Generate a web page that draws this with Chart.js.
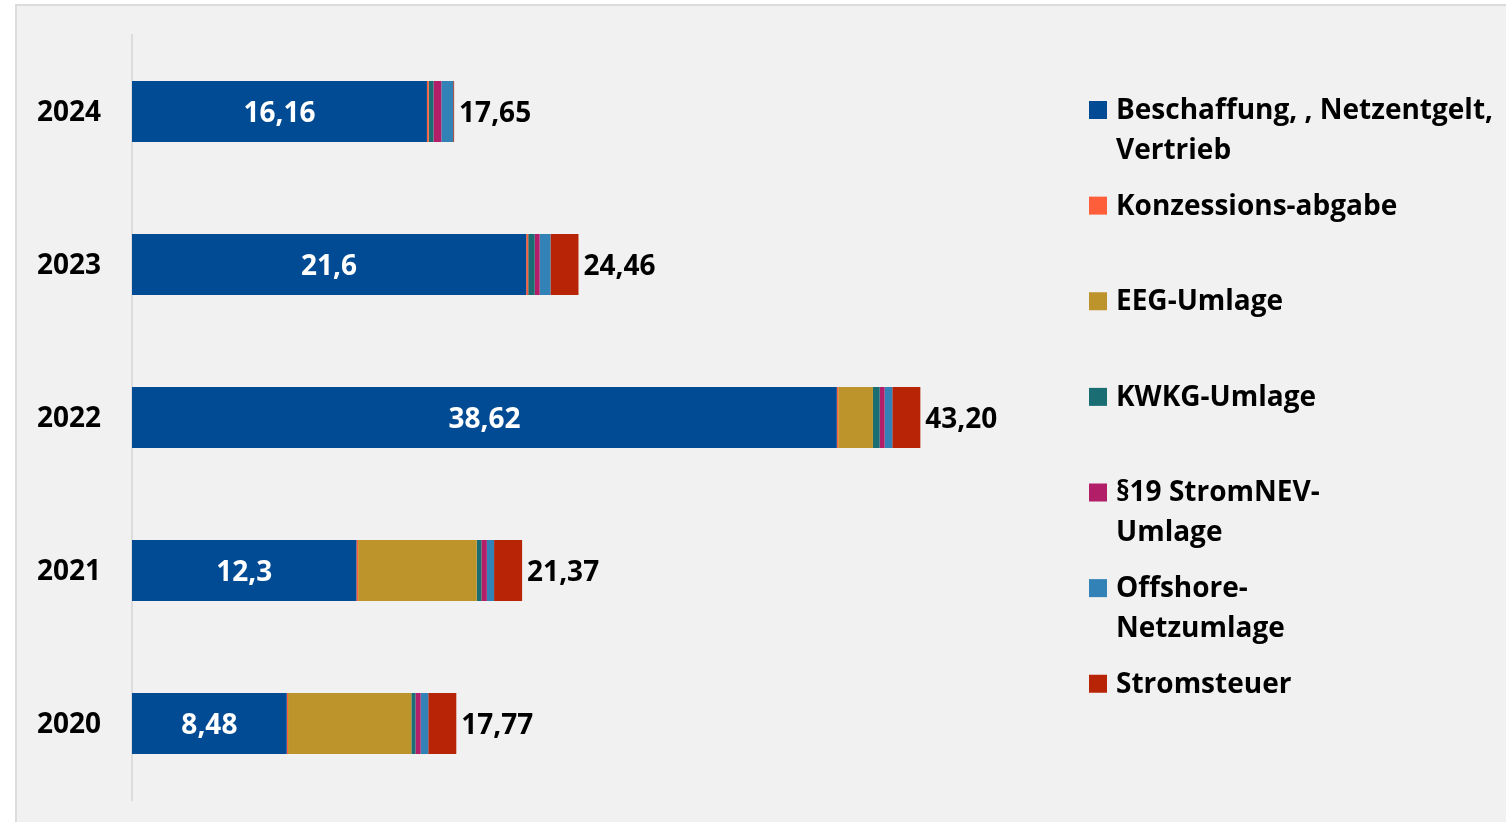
<!DOCTYPE html>
<html>
<head>
<meta charset="utf-8">
<script src="https://cdn.jsdelivr.net/npm/chart.js@4.4.1/dist/chart.umd.min.js"></script>
<style>
  html, body { margin: 0; padding: 0; background: #ffffff; }
  #panel { position: absolute; left: 15px; top: 4px; width: 1500px; height: 830px;
           background: #f1f1f1; border-left: 2px solid #dcdcdc; border-top: 2px solid #dcdcdc; }
  #wrap { position: absolute; left: 0; top: 0; width: 1506px; height: 822px; }
</style>
</head>
<body>
<div id="panel"></div>
<div id="wrap"><canvas id="c" width="1506" height="822"></canvas></div>
<script>
// ---- data ----
const years = ['2024', '2023', '2022', '2021', '2020'];
const beschaffung = [16.16, 21.6, 38.62, 12.3, 8.48];
const konzession  = [0.10, 0.11, 0.08, 0.09, 0.07];
const eeg         = [0, 0, 1.90, 6.50, 6.756];
const kwkg        = [0.26, 0.357, 0.37, 0.254, 0.226];
const stromnev    = [0.43, 0.27, 0.27, 0.30, 0.285];
const offshore    = [0.65, 0.591, 0.42, 0.395, 0.416];
const stromsteuer = [0.05, 1.537, 1.537, 1.537, 1.537];
const totals      = [17.65, 24.46, 43.20, 21.37, 17.77];
const seriesNames = [
  ['Beschaffung, , Netzentgelt,', 'Vertrieb'],
  ['Konzessions-abgabe'],
  ['EEG-Umlage'],
  ['KWKG-Umlage'],
  ['§19 StromNEV-', 'Umlage'],
  ['Offshore-', 'Netzumlage'],
  ['Stromsteuer']
];
const seriesColors = ['#004b93', '#ff5e3a', '#bd942b', '#1a6d73', '#b21e68', '#3282b8', '#b82406'];
const seriesValues = [beschaffung, konzession, eeg, kwkg, stromnev, offshore, stromsteuer];

const FONT = '"Open Sans", "Noto Sans", sans-serif';
const FSIZE = 28;

function fmt(v, fixed) {
  return (fixed ? v.toFixed(2) : String(v)).replace('.', ',');
}

const labelPlugin = {
  id: 'labels',
  afterDatasetsDraw(chart) {
    const ctx = chart.ctx;
    ctx.save();
    ctx.font = '700 ' + FSIZE + 'px ' + FONT;
    ctx.textBaseline = 'middle';
    const m0 = chart.getDatasetMeta(0);
    const mLast = chart.getDatasetMeta(chart.data.datasets.length - 1);
    m0.data.forEach((el, i) => {
      ctx.fillStyle = '#ffffff';
      ctx.textAlign = 'center';
      ctx.fillText(fmt(beschaffung[i], false), (el.base + el.x) / 2, el.y + 3);
      const end = mLast.data[i].x;
      ctx.fillStyle = '#000000';
      ctx.textAlign = 'left';
      ctx.fillText(fmt(totals[i], true), end + 5, el.y + 3);
    });
    ctx.restore();
  }
};

const legendPlugin = {
  id: 'sideLegend',
  afterDraw(chart) {
    const ctx = chart.ctx;
    ctx.save();
    ctx.font = '700 ' + FSIZE + 'px ' + FONT;
    ctx.textBaseline = 'middle';
    ctx.textAlign = 'left';
    const step = chart.chartArea.height / 8;
    chart.data.datasets.forEach((ds, i) => {
      const y = chart.chartArea.top + 75 + i * step;
      ctx.fillStyle = ds.backgroundColor;
      ctx.fillRect(1089, y - 9, 18, 18);
      ctx.fillStyle = '#000000';
      ds.label.forEach((line, j) => ctx.fillText(line, 1116, y + 1 + j * 40));
    });
    ctx.restore();
  }
};

new Chart(document.getElementById('c'), {
  type: 'bar',
  data: {
    labels: years,
    datasets: seriesValues.map((vals, i) => ({
      label: seriesNames[i],
      data: vals,
      backgroundColor: seriesColors[i],
      borderWidth: 0,
      categoryPercentage: 1,
      barPercentage: 0.4
    }))
  },
  options: {
    indexAxis: 'y',
    responsive: false,
    animation: false,
    layout: { padding: { left: 0, top: 35, bottom: 22, right: 461.5 } },
    plugins: { legend: { display: false }, tooltip: { enabled: false } },
    scales: {
      x: { stacked: true, display: false, min: 0, max: 50 },
      y: {
        stacked: true,
        afterFit(s) { s.width = 132; s.paddingTop = 0; s.paddingBottom = 0; },
        grid: { display: false, drawTicks: false },
        border: { display: true, color: '#dcdcdc', width: 2 },
        ticks: { color: '#000000', padding: 31, labelOffset: 2, font: { family: FONT, size: FSIZE, weight: '700' } }
      }
    }
  },
  plugins: [labelPlugin, legendPlugin]
});
</script>
</body>
</html>
